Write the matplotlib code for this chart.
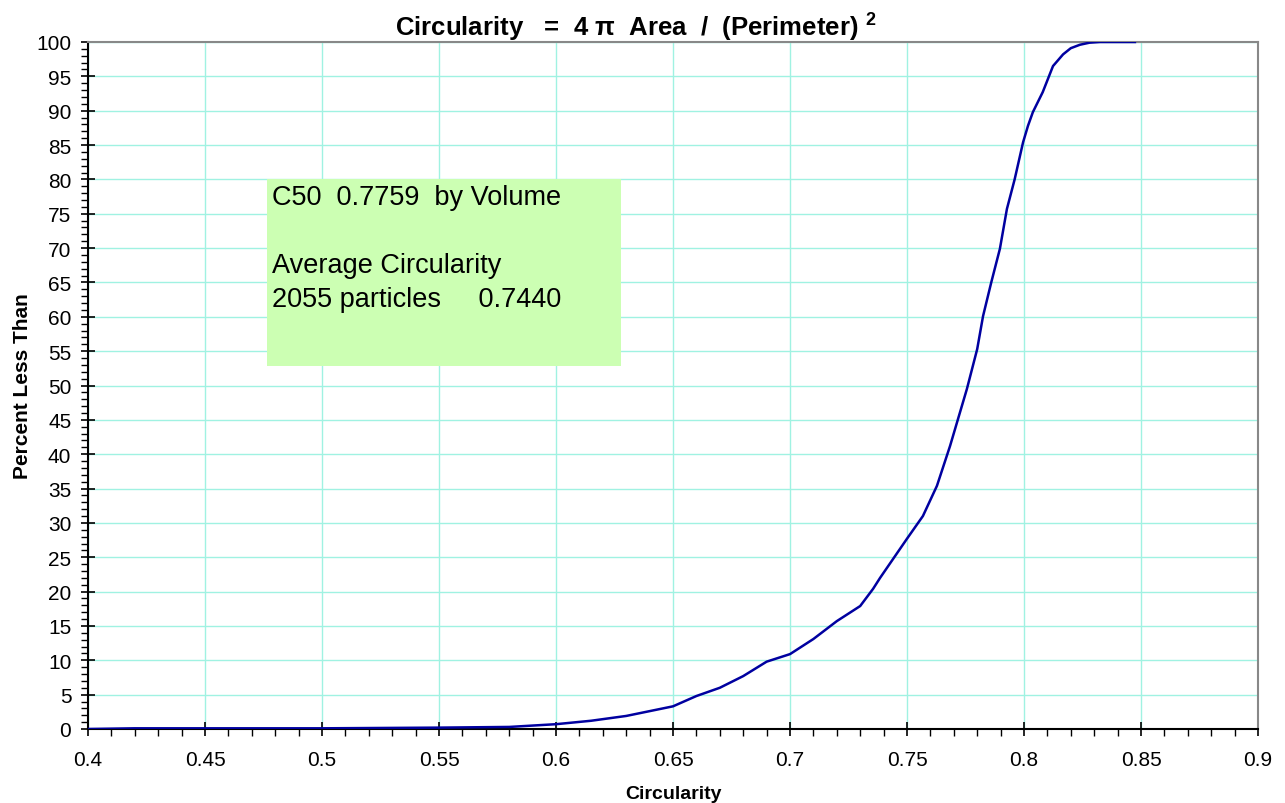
import matplotlib.pyplot as plt
from matplotlib.ticker import MultipleLocator

plt.rcParams['font.family'] = ['Liberation Sans', 'DejaVu Sans']
plt.rcParams['mathtext.fontset'] = 'custom'
plt.rcParams['mathtext.rm'] = 'Liberation Sans'
plt.rcParams['mathtext.bf'] = 'Liberation Sans:bold'

# cumulative circularity distribution
circ = [0.400, 0.420, 0.450, 0.500, 0.550, 0.580, 0.600, 0.615, 0.630, 0.640,
        0.650, 0.660, 0.670, 0.680, 0.690, 0.700, 0.710, 0.720, 0.730, 0.7355,
        0.7385, 0.750, 0.7568, 0.7628, 0.7684, 0.7756, 0.780, 0.7825, 0.7860,
        0.7897, 0.7927, 0.796, 0.7996, 0.8017, 0.8038, 0.808, 0.8124, 0.8167,
        0.8200, 0.8239, 0.8280, 0.8325, 0.8474]
pct = [0.0, 0.1, 0.1, 0.1, 0.2, 0.3, 0.7, 1.2, 1.9, 2.6,
       3.3, 4.8, 6.0, 7.7, 9.8, 10.9, 13.1, 15.7, 17.9, 20.4,
       22.0, 27.7, 31.0, 35.4, 41.2, 49.5, 55.3, 60.1, 65.0,
       69.9, 75.7, 80.0, 85.4, 87.8, 89.8, 92.7, 96.5, 98.2,
       99.1, 99.6, 99.9, 100.0, 100.0]

box_lines = ["C50  0.7759  by Volume", "", "Average Circularity", "2055 particles     0.7440"]

fig = plt.figure(figsize=(12.85, 8.04), dpi=100)
ax = fig.add_axes([88 / 1285, 74 / 804, 1170 / 1285, 687 / 804])

ax.plot(circ, pct, color='#0000a0', linewidth=1.8, zorder=3)

ax.set_xlim(0.4, 0.9)
ax.set_ylim(0, 100)
ax.xaxis.set_major_locator(MultipleLocator(0.05))
ax.xaxis.set_minor_locator(MultipleLocator(0.01))
ax.yaxis.set_major_locator(MultipleLocator(5))
ax.yaxis.set_minor_locator(MultipleLocator(1))
ax.set_xticks([0.4, 0.45, 0.5, 0.55, 0.6, 0.65, 0.7, 0.75, 0.8, 0.85, 0.9])
ax.set_xticklabels(['0.4', '0.45', '0.5', '0.55', '0.6', '0.65', '0.7', '0.75', '0.8', '0.85', '0.9'])
ax.tick_params(which='major', direction='inout', length=10, width=1.2, labelsize=15, color='black')
ax.tick_params(which='minor', direction='out', length=5, width=1, color='black')
ax.tick_params(axis='x', pad=10)
ax.tick_params(axis='y', pad=7)
ax.grid(True, which='major', color='#a0f2e2', linewidth=1)
ax.set_axisbelow(True)

for s in ['top', 'right']:
    ax.spines[s].set_color('#888888')
    ax.spines[s].set_linewidth(1.5)
for s in ['left', 'bottom']:
    ax.spines[s].set_color('black')
    ax.spines[s].set_linewidth(1.5)

ax.set_xlabel('Circularity', fontsize=14, fontweight='bold', labelpad=12)
ax.set_ylabel('Percent Less Than', fontsize=15, fontweight='bold', labelpad=3)
ax.set_title('Circularity   =  4 \u03c0  Area  /  (Perimeter) $^{\\mathbf{2}}$',
             fontsize=18.5, fontweight='bold', pad=5, x=0.468)

# green annotation box
ax.add_patch(plt.Rectangle((0.4 + (267 - 88) / 2340, 52.8), 354 / 2340, 27.3,
                           facecolor='#ccffb3', edgecolor='none', zorder=2))
y0 = 77.5
for i, line in enumerate(box_lines):
    ax.text(0.4 + (272 - 88) / 2340, y0 - i * 4.95, line, fontsize=19.5,
            va='center', ha='left', zorder=4)

fig.savefig('out.png', dpi=100)
